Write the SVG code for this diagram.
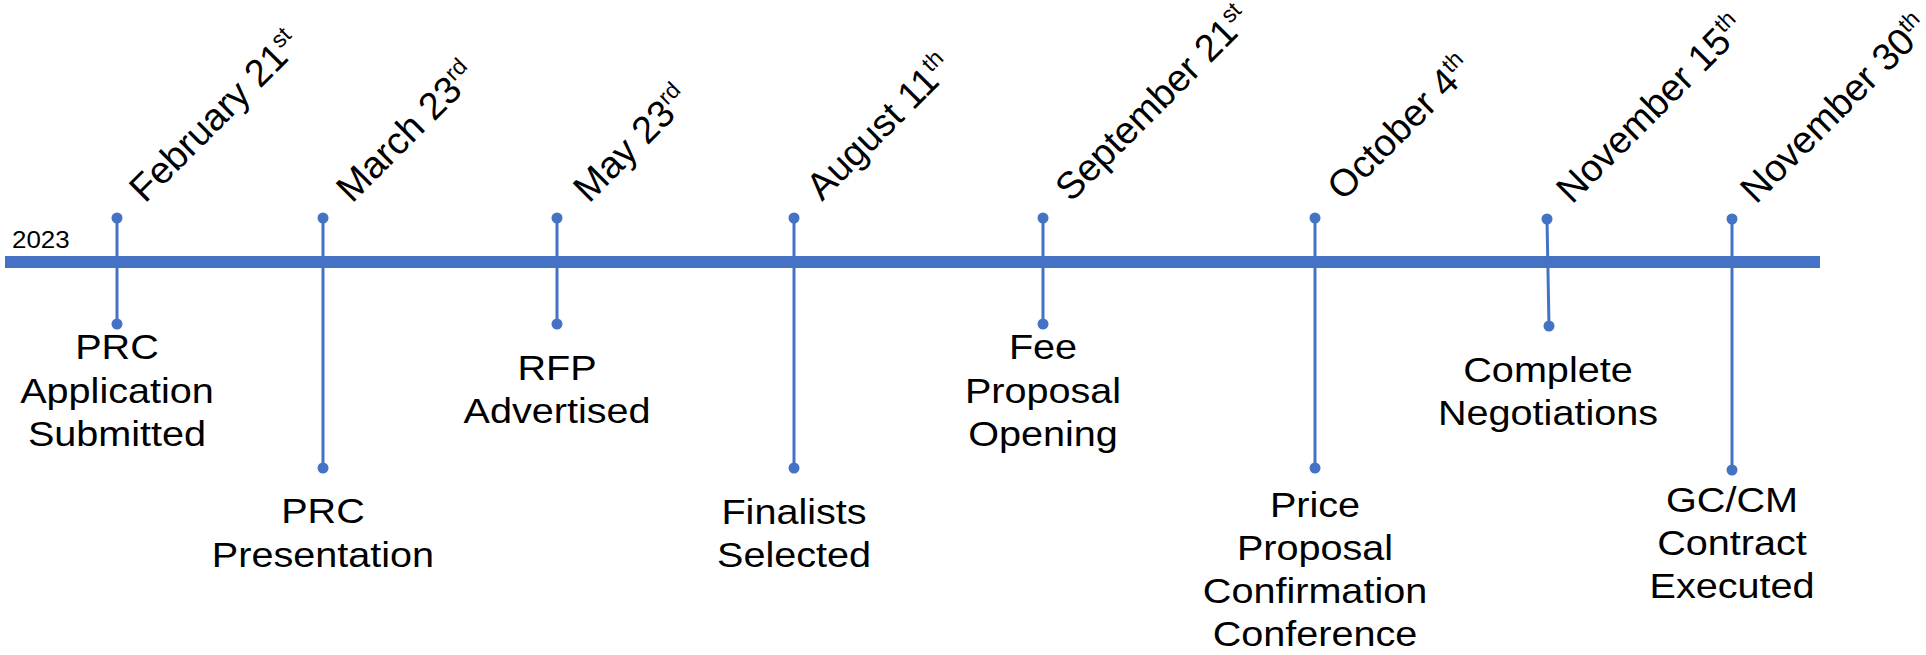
<svg xmlns="http://www.w3.org/2000/svg" width="1926" height="655" viewBox="0 0 1926 655">
<style>
  .stem { stroke: #4472C4; stroke-width: 3; fill: none; }
  .dot { fill: #4472C4; }
  .bar { fill: #4472C4; }
  .lbl { font-family: "Liberation Sans", Arial, sans-serif; font-size: 36px; fill: #000; text-anchor: middle; }
  .date { font-family: "Liberation Sans", Arial, sans-serif; font-size: 38px; fill: #000; }
  .sup { font-size: 23px; }
  .year { font-family: "Liberation Sans", Arial, sans-serif; font-size: 24px; fill: #000; }
</style>
<rect width="1926" height="655" fill="#fff"/>
<g id="timeline">
  <rect class="bar" x="5" y="256" width="1815" height="12"/>
  <text class="year" transform="translate(12,248) scale(1.08,1)">2023</text>
</g>
<g id="connectors">
  <line class="stem" x1="117" y1="218" x2="117" y2="324"/>
  <line class="stem" x1="323" y1="218" x2="323" y2="468"/>
  <line class="stem" x1="557" y1="218" x2="557" y2="324"/>
  <line class="stem" x1="794" y1="218" x2="794" y2="468"/>
  <line class="stem" x1="1043" y1="218" x2="1043" y2="324"/>
  <line class="stem" x1="1315" y1="218" x2="1315" y2="468"/>
  <line class="stem" x1="1547" y1="219" x2="1549" y2="326"/>
  <line class="stem" x1="1732" y1="219" x2="1732" y2="470"/>
</g>
<g id="m1">
  <circle class="dot" cx="117" cy="218" r="5.5"/><circle class="dot" cx="117" cy="324" r="5.5"/>
  <text class="date" transform="translate(145,204) rotate(-45)">February 21<tspan class="sup" dy="-14">st</tspan></text>
  <g transform="translate(117,0) scale(1.1,1)"><text class="lbl"><tspan x="0" y="359">PRC</tspan><tspan x="0" y="403">Application</tspan><tspan x="0" y="446">Submitted</tspan></text></g>
</g>
<g id="m2">
  <circle class="dot" cx="323" cy="218" r="5.5"/><circle class="dot" cx="323" cy="468" r="5.5"/>
  <text class="date" transform="translate(352,204) rotate(-45)">March 23<tspan class="sup" dy="-14">rd</tspan></text>
  <g transform="translate(323,0) scale(1.1,1)"><text class="lbl"><tspan x="0" y="523">PRC</tspan><tspan x="0" y="567">Presentation</tspan></text></g>
</g>
<g id="m3">
  <circle class="dot" cx="557" cy="218" r="5.5"/><circle class="dot" cx="557" cy="324" r="5.5"/>
  <text class="date" transform="translate(589,204) rotate(-45)">May 23<tspan class="sup" dy="-14">rd</tspan></text>
  <g transform="translate(557,0) scale(1.1,1)"><text class="lbl"><tspan x="0" y="380">RFP</tspan><tspan x="0" y="423">Advertised</tspan></text></g>
</g>
<g id="m4">
  <circle class="dot" cx="794" cy="218" r="5.5"/><circle class="dot" cx="794" cy="468" r="5.5"/>
  <text class="date" transform="translate(822,202) rotate(-45)">August 11<tspan class="sup" dy="-14">th</tspan></text>
  <g transform="translate(794,0) scale(1.1,1)"><text class="lbl"><tspan x="0" y="524">Finalists</tspan><tspan x="0" y="567">Selected</tspan></text></g>
</g>
<g id="m5">
  <circle class="dot" cx="1043" cy="218" r="5.5"/><circle class="dot" cx="1043" cy="324" r="5.5"/>
  <text class="date" transform="translate(1071,203) rotate(-45)">September 21<tspan class="sup" dy="-14">st</tspan></text>
  <g transform="translate(1043,0) scale(1.1,1)"><text class="lbl"><tspan x="0" y="359">Fee</tspan><tspan x="0" y="403">Proposal</tspan><tspan x="0" y="446">Opening</tspan></text></g>
</g>
<g id="m6">
  <circle class="dot" cx="1315" cy="218" r="5.5"/><circle class="dot" cx="1315" cy="468" r="5.5"/>
  <text class="date" transform="translate(1343,202) rotate(-45)">October 4<tspan class="sup" dy="-14">th</tspan></text>
  <g transform="translate(1315,0) scale(1.1,1)"><text class="lbl"><tspan x="0" y="517">Price</tspan><tspan x="0" y="560">Proposal</tspan><tspan x="0" y="603">Confirmation</tspan><tspan x="0" y="646">Conference</tspan></text></g>
</g>
<g id="m7">
  <circle class="dot" cx="1547" cy="219" r="5.5"/><circle class="dot" cx="1549" cy="326" r="5.5"/>
  <text class="date" transform="translate(1572,205) rotate(-45)">November 15<tspan class="sup" dy="-14">th</tspan></text>
  <g transform="translate(1548,0) scale(1.1,1)"><text class="lbl"><tspan x="0" y="382">Complete</tspan><tspan x="0" y="425">Negotiations</tspan></text></g>
</g>
<g id="m8">
  <circle class="dot" cx="1732" cy="219" r="5.5"/><circle class="dot" cx="1732" cy="470" r="5.5"/>
  <text class="date" transform="translate(1756,205) rotate(-45)">November 30<tspan class="sup" dy="-14">th</tspan></text>
  <g transform="translate(1732,0) scale(1.1,1)"><text class="lbl"><tspan x="0" y="512">GC/CM</tspan><tspan x="0" y="555">Contract</tspan><tspan x="0" y="598">Executed</tspan></text></g>
</g>
</svg>
